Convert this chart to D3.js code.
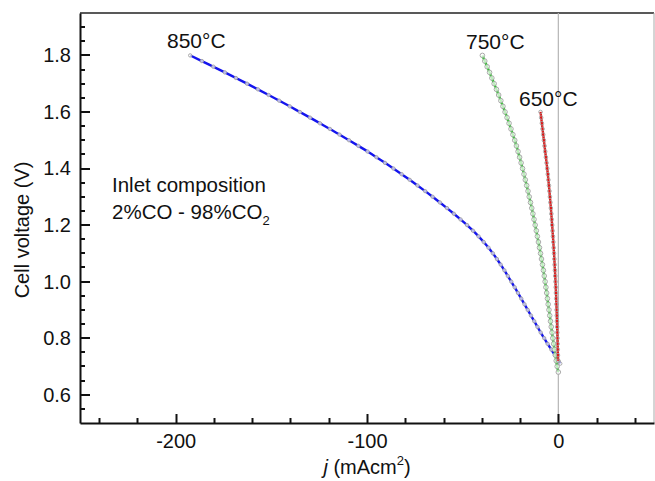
<!DOCTYPE html>
<html>
<head>
<meta charset="utf-8">
<script src="https://cdn.jsdelivr.net/npm/d3@7"></script>
<style>
  body { margin: 0; background: #fff; }
  svg { display: block; font-family: "Liberation Sans", Arial, sans-serif; }
</style>
</head>
<body>
<svg id="chart" width="655" height="481"></svg>
<script>
// Voltage (V) steps and current density (mA cm^-2)
const volts850 = [1.80, 1.78, 1.76, 1.74, 1.72, 1.70, 1.68, 1.66, 1.64, 1.62, 1.60, 1.58, 1.56, 1.54, 1.52, 1.50,
  1.48, 1.46, 1.44, 1.42, 1.40, 1.38, 1.36, 1.34, 1.32, 1.30, 1.28, 1.26, 1.24, 1.22, 1.20, 1.18, 1.16, 1.14,
  1.12, 1.10, 1.08, 1.06, 1.04, 1.02, 1.00, 0.98, 0.96, 0.94, 0.92, 0.90, 0.88, 0.86, 0.84, 0.82, 0.80, 0.78,
  0.76, 0.74, 0.72, 0.71];
const amps850 = [-192.4, -186.3, -180.3, -174.3, -168.5, -162.7, -157.0, -151.4, -145.9, -140.4, -135.1, -129.8,
  -124.6, -119.4, -114.4, -109.4, -104.5, -99.7, -95.1, -90.6, -86.2, -81.9, -77.7, -73.6, -69.6, -65.7, -61.9,
  -58.2, -54.6, -51.1, -47.7, -44.6, -41.7, -39.0, -36.5, -34.2, -32.1, -30.1, -28.2, -26.4, -24.6, -22.8,
  -21.1, -19.4, -17.7, -16.0, -14.3, -12.6, -10.9, -9.2, -7.4, -5.6, -3.7, -1.8, 0.1, 1.0];

const volts750 = [1.80, 1.78, 1.76, 1.74, 1.72, 1.70, 1.68, 1.66, 1.64, 1.62, 1.60, 1.58, 1.56, 1.54, 1.52, 1.50,
  1.48, 1.46, 1.44, 1.42, 1.40, 1.38, 1.36, 1.34, 1.32, 1.30, 1.28, 1.26, 1.24, 1.22, 1.20, 1.18, 1.16, 1.14,
  1.12, 1.10, 1.08, 1.06, 1.04, 1.02, 1.00, 0.98, 0.96, 0.94, 0.92, 0.90, 0.88, 0.86, 0.84, 0.82, 0.80, 0.78,
  0.76, 0.74, 0.72, 0.70, 0.68];
const amps750 = [-39.7, -38.45, -37.2, -35.95, -34.75, -33.55, -32.35, -31.2, -30.05, -28.95, -27.85, -26.8,
  -25.75, -24.75, -23.75, -22.8, -21.9, -21.05, -20.25, -19.45, -18.7, -17.95, -17.25, -16.55, -15.85, -15.2,
  -14.55, -13.9, -13.3, -12.7, -12.1, -11.5, -10.95, -10.4, -9.85, -9.3, -8.8, -8.3, -7.8, -7.35, -6.9, -6.5,
  -6.1, -5.7, -5.3, -4.9, -4.5, -4.1, -3.7, -3.3, -2.9, -2.45, -2.0, -1.55, -1.1, -0.6, 0.0];

const volts650 = [1.60, 1.58, 1.56, 1.54, 1.52, 1.50, 1.48, 1.46, 1.44, 1.42, 1.40, 1.38, 1.36, 1.34, 1.32, 1.30,
  1.28, 1.26, 1.24, 1.22, 1.20, 1.18, 1.16, 1.14, 1.12, 1.10, 1.08, 1.06, 1.04, 1.02, 1.00, 0.98, 0.96, 0.94,
  0.92, 0.90, 0.88, 0.86, 0.84, 0.82, 0.80, 0.78, 0.76, 0.74, 0.72];
const amps650 = [-9.3, -8.95, -8.6, -8.25, -7.9, -7.55, -7.2, -6.85, -6.5, -6.15, -5.8, -5.5, -5.2, -4.92, -4.65,
  -4.4, -4.15, -3.9, -3.67, -3.45, -3.23, -3.02, -2.82, -2.62, -2.43, -2.25, -2.08, -1.92, -1.77, -1.62, -1.48,
  -1.35, -1.23, -1.11, -1.0, -0.9, -0.8, -0.71, -0.62, -0.54, -0.46, -0.38, -0.3, -0.2, -0.1];

const seriesNames = ["850°C", "750°C", "650°C"];
const xMajorTicks = [-200, -100, 0];
const xMinorTicks = [-240, -220, -180, -160, -140, -120, -80, -60, -40, -20, 20, 40];
const yMajorTicks = [0.6, 0.8, 1.0, 1.2, 1.4, 1.6, 1.8];
const yMinorTicks = [0.55, 0.65, 0.7, 0.75, 0.85, 0.9, 0.95, 1.05, 1.1, 1.15, 1.25, 1.3, 1.35, 1.45, 1.5,
  1.55, 1.65, 1.7, 1.75, 1.85, 1.9];

const svg = d3.select("#chart");
const plotLeft = 80, plotRight = 654, plotTop = 13, plotBottom = 423;

const x = d3.scaleLinear().domain([-250, 50]).range([plotLeft, plotRight]);
const y = d3.scaleLinear().domain([0.5, 1.95]).range([plotBottom, plotTop]);

// frame: top dark, right light grey
svg.append("line").attr("x1", plotLeft).attr("x2", plotRight).attr("y1", plotTop).attr("y2", plotTop)
  .attr("stroke", "#222").attr("stroke-width", 1.5);
svg.append("line").attr("x1", plotRight).attr("x2", plotRight).attr("y1", plotTop).attr("y2", plotBottom)
  .attr("stroke", "#aaa").attr("stroke-width", 1);

// zero line
svg.append("line").attr("x1", x(0)).attr("x2", x(0)).attr("y1", plotTop).attr("y2", plotBottom)
  .attr("stroke", "#b5b5b5").attr("stroke-width", 1.2);

// axes (labels + domain line from d3.axis, inward ticks drawn below)
function styleAxis(g) {
  g.select(".domain").attr("stroke", "#111").attr("stroke-width", 2);
  g.selectAll(".tick line").remove();
  g.selectAll(".tick text").attr("fill", "#111").attr("font-size", 20)
    .attr("font-family", "Liberation Sans, Arial, sans-serif");
}

svg.append("g").attr("transform", `translate(0,${plotBottom})`)
  .call(d3.axisBottom(x).tickValues(xMajorTicks).tickSize(0).tickPadding(11)
    .tickFormat(d => d < 0 ? "-" + Math.abs(d) : d))
  .call(styleAxis);

svg.append("g").attr("transform", `translate(${plotLeft},0)`)
  .call(d3.axisLeft(y).tickValues(yMajorTicks).tickSize(0).tickPadding(9)
    .tickFormat(d3.format(".1f")))
  .call(styleAxis);

const ticks = svg.append("g").attr("stroke", "#111").attr("stroke-width", 2);
ticks.selectAll("line.xt")
  .data(xMajorTicks.map(v => [v, 9]).concat(xMinorTicks.map(v => [v, 5])))
  .join("line").attr("class", "xt")
  .attr("x1", d => Math.round(x(d[0])) + 0.5).attr("x2", d => Math.round(x(d[0])) + 0.5)
  .attr("y1", plotBottom).attr("y2", d => plotBottom - d[1]);
ticks.selectAll("line.yt")
  .data(yMajorTicks.map(v => [v, 10]).concat(yMinorTicks.map(v => [v, 5])))
  .join("line").attr("class", "yt")
  .attr("y1", d => Math.round(y(d[0]))).attr("y2", d => Math.round(y(d[0])))
  .attr("x1", plotLeft).attr("x2", d => plotLeft + d[1]);

// axis titles
svg.append("text")
  .attr("transform", `translate(29,${(plotTop + plotBottom) / 2 + 12}) rotate(-90)`)
  .attr("text-anchor", "middle").attr("font-size", 20).attr("fill", "#111")
  .text("Cell voltage (V)");

const xt = svg.append("text")
  .attr("x", x(-100)).attr("y", 474)
  .attr("text-anchor", "middle").attr("font-size", 20).attr("fill", "#111");
xt.append("tspan").attr("font-style", "italic").text("j");
xt.append("tspan").text(" (mAcm");
xt.append("tspan").attr("font-size", 13).attr("dy", -9).text("2");
xt.append("tspan").attr("dy", 9).text(")");

// curves
const series = [
  { name: seriesNames[0], v: volts850, j: amps850, color: "#1414ee", r: 1.7, fill: "#fff" },
  { name: seriesNames[1], v: volts750, j: amps750, color: "#22cc22", r: 2.3, fill: "#fff" },
  { name: seriesNames[2], v: volts650, j: amps650, color: "#e01818", r: 1.8, fill: "none" }
];

const line = d3.line().x(d => x(d[0])).y(d => y(d[1])).curve(d3.curveMonotoneY);

series.forEach(s => {
  const pts = s.v.map((v, i) => [s.j[i], v]);
  svg.append("path").datum(pts)
    .attr("d", line)
    .attr("fill", "none")
    .attr("stroke", s.color)
    .attr("stroke-width", 2.4);
  svg.append("g").selectAll("circle").data(pts).join("circle")
    .attr("cx", d => x(d[0])).attr("cy", d => y(d[1]))
    .attr("r", s.r)
    .attr("fill", s.fill).attr("fill-opacity", 0.7)
    .attr("stroke", "#a0a0a0").attr("stroke-width", 0.9);
});

// labels
const labelPos = [[167, 48], [466, 49], [519, 106]];
seriesNames.forEach((n, i) => {
  svg.append("text").attr("x", labelPos[i][0]).attr("y", labelPos[i][1])
    .attr("font-size", 21).attr("fill", "#111").text(n);
});

svg.append("text").attr("x", 112).attr("y", 192).attr("font-size", 20.5).attr("fill", "#111")
  .text("Inlet composition");
const comp = svg.append("text").attr("x", 112).attr("y", 219).attr("font-size", 20.5).attr("fill", "#111");
comp.append("tspan").text("2%CO - 98%CO");
comp.append("tspan").attr("font-size", 13).attr("dy", 6).text("2");
</script>
</body>
</html>
